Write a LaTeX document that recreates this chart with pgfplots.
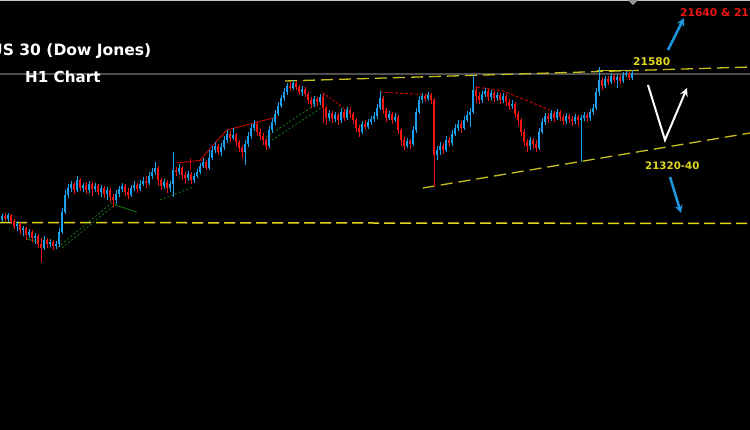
\documentclass[border=0pt]{standalone}
\usepackage{pgfplots}
\usepackage{pgfplotstable}
\pgfplotsset{compat=1.18}
\usetikzlibrary{arrows.meta}
\usepackage{fontspec}
\setmainfont{DejaVu Sans}
\definecolor{bull}{RGB}{28,160,235}
\definecolor{bear}{RGB}{240,20,20}
\definecolor{yel}{RGB}{225,215,30}
\definecolor{olive}{RGB}{200,190,30}
\definecolor{dred}{RGB}{200,0,0}
\definecolor{dgreen}{RGB}{20,110,20}
\definecolor{arrblue}{RGB}{30,150,220}
\pgfplotstableread{
x o c h l
2 220 216 214 222
5 216 219 213 221
8 219 215 213 222
11 215 221 214 224
14 221 226 219 229
17 226 224 221 231
20 224 230 222 234
23 230 228 226 236
26 228 235 227 240
29 235 232 229 238
32 232 238 230 242
35 238 236 233 244
38 236 244 234 248
41 244 248 238 262
44 248 240 236 250
47 240 244 238 248
50 244 242 239 247
53 242 246 240 250
56 246 244 241 249
59 244 232 228 247
62 232 212 208 234
65 212 195 190 214
68 195 188 184 198
71 188 184 181 192
74 184 190 182 194
77 190 180 176 192
80 180 188 178 191
83 188 185 183 192
86 185 190 182 194
89 190 184 181 193
92 184 189 182 196
95 189 186 183 192
98 186 192 184 195
101 192 188 185 197
104 188 194 186 198
107 194 190 187 200
110 190 197 188 202
113 197 200 194 207
116 200 194 190 204
119 194 189 186 197
122 189 186 183 192
125 186 192 184 196
128 192 195 188 199
131 195 188 185 197
134 188 185 181 191
137 185 189 183 193
140 189 184 180 191
143 184 181 177 186
146 181 183 176 188
149 183 176 172 185
152 176 172 168 179
155 172 168 162 175
158 168 180 166 186
161 180 186 178 190
164 186 182 179 189
167 182 188 180 193
170 188 184 181 192
173 184 170 152 197
176 170 172 167 176
179 172 168 164 175
182 168 175 166 180
185 175 178 172 183
188 178 174 171 181
191 174 180 172 184
194 180 176 173 183
197 176 172 169 178
200 172 166 163 174
203 166 162 158 168
206 162 168 160 170
209 168 158 150 170
212 158 150 146 160
215 150 146 142 153
218 146 152 144 155
221 152 147 143 156
224 147 140 136 150
227 140 134 130 143
230 134 138 131 142
233 138 135 128 140
236 135 142 133 146
239 142 148 140 152
242 148 152 145 158
245 152 144 140 165
248 144 136 132 147
251 136 128 124 139
254 128 124 120 131
257 124 132 122 136
260 132 136 129 140
263 136 140 133 145
266 140 146 138 150
269 146 130 126 148
272 130 122 118 133
275 122 114 110 125
278 114 106 102 116
281 106 98 95 108
284 98 92 88 101
287 92 86 83 95
290 86 88 82 91
293 88 83 80 90
296 83 87 81 90
299 87 92 85 95
302 92 89 86 96
305 89 94 87 97
308 94 100 92 104
311 100 104 97 108
314 104 99 96 107
317 99 102 97 106
320 102 97 94 105
323 97 108 93 123
326 108 118 106 125
329 118 113 110 121
332 113 119 111 123
335 119 115 112 122
338 115 120 113 125
341 120 112 108 123
344 112 118 109 121
347 118 110 107 120
350 110 114 107 118
353 114 120 112 124
356 120 128 118 132
359 128 132 125 137
362 132 124 121 134
365 124 127 120 130
368 127 122 119 129
371 122 119 116 125
374 119 116 112 122
377 116 108 104 119
380 108 98 91 110
383 98 110 96 114
386 110 118 108 122
389 118 114 111 120
392 114 120 112 124
395 120 117 113 122
398 117 130 115 134
401 130 140 128 146
404 140 146 137 150
407 146 141 138 148
410 141 144 139 149
413 144 130 126 146
416 130 112 108 133
419 112 100 96 114
422 100 96 93 103
425 96 99 94 102
428 99 95 92 101
431 95 100 93 104
434 100 155 98 187
437 155 150 146 160
440 150 146 142 155
443 146 150 143 154
446 150 140 136 152
449 140 143 137 147
452 143 134 130 146
455 134 128 124 136
458 128 124 120 131
461 124 128 121 133
464 128 120 116 130
467 120 115 111 122
470 115 112 108 127
473 112 90 75 114
476 90 96 86 103
479 96 100 92 104
482 100 94 91 103
485 94 91 88 97
488 91 97 89 101
491 97 93 90 100
494 93 98 91 102
497 98 95 92 101
500 95 100 93 104
503 100 96 93 103
506 96 102 94 106
509 102 106 99 110
512 106 104 100 109
515 104 114 102 118
518 114 120 111 126
521 120 132 118 136
524 132 142 129 146
527 142 146 139 152
530 146 140 137 150
533 140 144 138 149
536 144 148 140 152
539 148 132 128 150
542 132 122 118 134
545 122 116 113 125
548 116 119 113 123
551 119 113 110 121
554 113 118 111 122
557 118 112 109 120
560 112 117 110 121
563 117 121 114 125
566 121 116 113 124
569 116 119 114 123
572 119 121 116 126
575 121 117 114 124
578 117 120 115 126
581 120 118 115 162
584 118 115 112 121
587 115 118 113 122
590 118 112 109 121
593 112 108 104 115
596 108 92 88 110
599 92 80 67 96
602 80 86 77 90
605 86 79 76 88
608 79 82 76 85
611 82 76 73 84
614 76 80 74 83
617 80 77 74 88
620 77 81 75 84
623 81 75 72 83
626 75 74 71 77
629 74 78 72 80
632 78 73 70 80
}\candles
\begin{document}
\begin{tikzpicture}
\fill[black] (0,0) rectangle (750bp,430bp);
\begin{axis}[
  at={(0,0)}, anchor=south west,
  width=750bp, height=430bp, scale only axis,
  xmin=0, xmax=750, ymin=0, ymax=430, y dir=reverse,
  hide axis, clip=true,
]
% reference lines
\addplot[draw={rgb,255:red,80;green,80;blue,80}, line width=2bp] coordinates {(0,74) (750,74)};
\addplot[draw={rgb,255:red,200;green,200;blue,200}, line width=1.5bp] coordinates {(0,0.5) (750,0.5)};
\addplot[fill={rgb,255:red,150;green,150;blue,150}, draw=none] coordinates {(628,0) (638,0) (633,5)} -- cycle;
\addplot[draw=yel, line width=1.5bp, dash pattern=on 11bp off 5bp] coordinates {(0,222.5) (750,223.5)};
\addplot[draw=olive, line width=1.3bp, dash pattern=on 12bp off 6bp] coordinates {(285,81) (750,67)};
\addplot[draw=olive, line width=1.3bp, dash pattern=on 12bp off 6bp] coordinates {(423,188) (750,133)};
\addplot[draw=olive, line width=1bp] coordinates {(597,70) (632,70)};
% red trendlines
\addplot[draw=dred, line width=0.9bp] coordinates {(200,160) (215,143) (227,130) (277,117)};
\addplot[draw=dred, line width=0.9bp] coordinates {(177,163) (203,160)};
\addplot[draw=dred, line width=0.9bp] coordinates {(190,158) (190,170)};
\addplot[draw=dred, line width=1bp, dash pattern=on 2bp off 2bp] coordinates {(323,93) (348,111)};
\addplot[draw=dred, line width=1bp, dash pattern=on 3bp off 2bp] coordinates {(380,92) (430,95)};
\addplot[draw=dred, line width=1bp, dash pattern=on 3bp off 2bp] coordinates {(477,87) (503,91) (550,110)};
% green trendlines
\addplot[draw=dgreen, line width=0.9bp, dash pattern=on 2bp off 2bp] coordinates {(58,247) (113,202)};
\addplot[draw=dgreen, line width=0.9bp, dash pattern=on 2bp off 2bp] coordinates {(62,248) (117,203)};
\addplot[draw=dgreen, line width=0.9bp] coordinates {(115,205) (137,212)};
\addplot[draw=dgreen, line width=0.9bp] coordinates {(27,239) (38,242)};
\addplot[draw=dgreen, line width=0.9bp, dash pattern=on 2bp off 2bp] coordinates {(160,200) (193,187)};
\addplot[draw=dgreen, line width=0.9bp, dash pattern=on 2bp off 2bp] coordinates {(266,137) (318,103)};
\addplot[draw=dgreen, line width=0.9bp, dash pattern=on 2bp off 2bp] coordinates {(272,140) (324,106)};
% candles: wicks
\addplot[draw=none, mark=none, forget plot, restrict expr to domain={\thisrow{o}-\thisrow{c}}{0:1000},
  error bars/.cd, y dir=plus, y explicit, error mark=none, error bar style={draw=bull, line width=0.9bp}]
  table[x=x, y=h, y error expr=\thisrow{l}-\thisrow{h}] {\candles};
\addplot[draw=none, mark=none, forget plot, restrict expr to domain={\thisrow{c}-\thisrow{o}}{0.5:1000},
  error bars/.cd, y dir=plus, y explicit, error mark=none, error bar style={draw=bear, line width=0.9bp}]
  table[x=x, y=h, y error expr=\thisrow{l}-\thisrow{h}] {\candles};
% bodies
\addplot[draw=none, mark=none, forget plot, restrict expr to domain={\thisrow{o}-\thisrow{c}}{0:1000},
  error bars/.cd, y dir=plus, y explicit, error mark=none, error bar style={draw=bull, line width=2.2bp}]
  table[x=x, y expr={min(\thisrow{o},\thisrow{c})}, y error expr={max(abs(\thisrow{o}-\thisrow{c}),1)}] {\candles};
\addplot[draw=none, mark=none, forget plot, restrict expr to domain={\thisrow{c}-\thisrow{o}}{0.5:1000},
  error bars/.cd, y dir=plus, y explicit, error mark=none, error bar style={draw=bear, line width=2.2bp}]
  table[x=x, y expr={min(\thisrow{o},\thisrow{c})}, y error expr={max(abs(\thisrow{o}-\thisrow{c}),1)}] {\candles};
% arrows
\addplot[draw=arrblue, line width=2.5bp, -{Stealth[length=8bp,width=8bp]}] coordinates {(668,50) (684,18)};
\addplot[draw=arrblue, line width=2.5bp, -{Stealth[length=8bp,width=8bp]}] coordinates {(670,177) (681,213)};
\addplot[draw=white, line width=2bp, -{Stealth[length=8bp,width=8bp]}] coordinates {(648,85) (665,140) (687,88)};
% texts
\node[anchor=base west, text=white, font=\fontsize{15.6}{18}\selectfont\bfseries, inner sep=0pt] at (axis cs:-10,55.5) {US 30 (Dow Jones)};
\node[anchor=base west, text=white, font=\fontsize{15.2}{18}\selectfont\bfseries, inner sep=0pt] at (axis cs:25,82) {H1 Chart};
\node[anchor=base west, text=yel, font=\fontsize{10.7}{13}\selectfont\bfseries, inner sep=0pt] at (axis cs:633,65) {21580};
\node[anchor=base west, text=bear, font=\fontsize{10.7}{13}\selectfont\bfseries, inner sep=0pt] at (axis cs:680,16) {21640 \& 21700};
\node[anchor=base west, text=yel, font=\fontsize{10.3}{13}\selectfont\bfseries, inner sep=0pt] at (axis cs:645,169) {21320-40};
\end{axis}
\pgfresetboundingbox
\path[use as bounding box] (0,0) rectangle (750bp,430bp);
\end{tikzpicture}
\end{document}
